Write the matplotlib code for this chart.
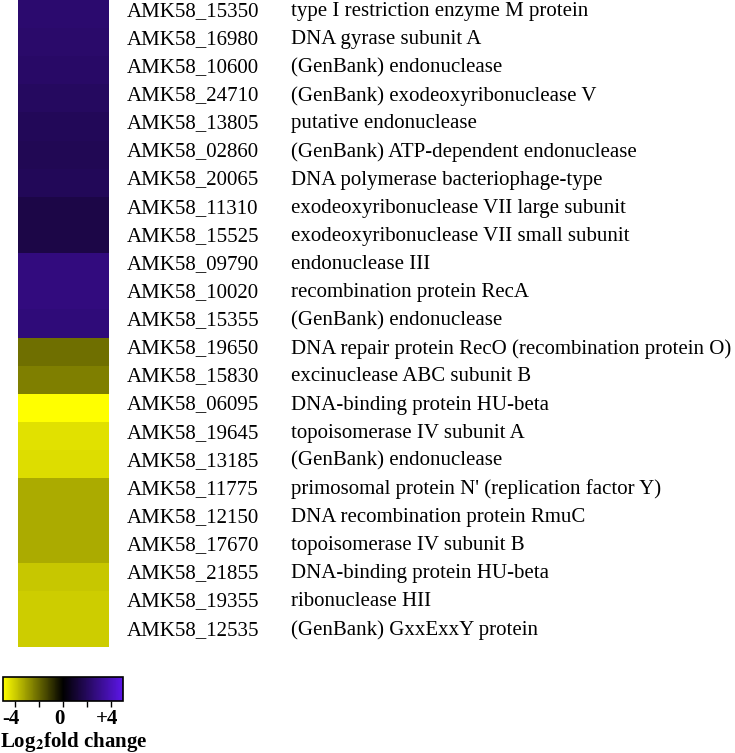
import matplotlib
matplotlib.use("Agg")
import matplotlib.pyplot as plt
import numpy as np
from matplotlib.colors import LinearSegmentedColormap, Normalize
from matplotlib.cm import ScalarMappable
from matplotlib.transforms import blended_transform_factory, ScaledTranslation

gene_ids = [
    "AMK58_15350", "AMK58_16980", "AMK58_10600", "AMK58_24710", "AMK58_13805",
    "AMK58_02860", "AMK58_20065", "AMK58_11310", "AMK58_15525", "AMK58_09790",
    "AMK58_10020", "AMK58_15355", "AMK58_19650", "AMK58_15830", "AMK58_06095",
    "AMK58_19645", "AMK58_13185", "AMK58_11775", "AMK58_12150", "AMK58_17670",
    "AMK58_21855", "AMK58_19355", "AMK58_12535",
]
descriptions = [
    "type I restriction enzyme M protein",
    "DNA gyrase subunit A",
    "(GenBank) endonuclease",
    "(GenBank) exodeoxyribonuclease V",
    "putative endonuclease",
    "(GenBank) ATP-dependent endonuclease",
    "DNA polymerase bacteriophage-type",
    "exodeoxyribonuclease VII large subunit",
    "exodeoxyribonuclease VII small subunit",
    "endonuclease III",
    "recombination protein RecA",
    "(GenBank) endonuclease",
    "DNA repair protein RecO (recombination protein O)",
    "excinuclease ABC subunit B",
    "DNA-binding protein HU-beta",
    "topoisomerase IV subunit A",
    "(GenBank) endonuclease",
    "primosomal protein N' (replication factor Y)",
    "DNA recombination protein RmuC",
    "topoisomerase IV subunit B",
    "DNA-binding protein HU-beta",
    "ribonuclease HII",
    "(GenBank) GxxExxY protein",
]
log2fc = [
    2.37, 2.28, 2.2, 2.07, 1.9, 1.81, 1.9, 1.55, 1.55, 2.72, 2.72, 2.59,
    -2.16, -2.5, -5.0, -4.4, -4.3, -3.33, -3.33, -3.33, -3.9, -4.0, -4.0,
]

plt.rcParams["font.family"] = ["Liberation Serif", "DejaVu Serif"]
plt.rcParams["mathtext.fontset"] = "stix"

cmap = LinearSegmentedColormap.from_list("ybp", ["#ffff00", "#000000", "#5c16e8"])
norm = Normalize(vmin=-5, vmax=5)

fig = plt.figure(figsize=(7.35, 7.53), dpi=100)

# heatmap column
ax = fig.add_axes([18 / 735, 1 - 647 / 753, 91 / 735, 647 / 753])
n = len(log2fc)
ax.imshow(np.array(log2fc).reshape(-1, 1), cmap=cmap, norm=norm, aspect="auto",
          interpolation="nearest", extent=(0, 1, n - 0.5, -0.5))
ax.set_xlim(0, 1)
ax.set_ylim(n - 0.5, -0.5)
ax.axis("off")

trans = blended_transform_factory(fig.transFigure, ax.transData)
for i, (gid, desc) in enumerate(zip(gene_ids, descriptions)):
    fig.text(127 / 735, i - 0.1, gid, transform=trans, va="center", ha="left", fontsize=15)
    fig.text(291 / 735, i - 0.1, desc, transform=trans, va="center", ha="left", fontsize=15)

# colour key
cax = fig.add_axes([3 / 735, 1 - 701 / 753, 120 / 735, 24 / 753])
cb = fig.colorbar(ScalarMappable(norm=norm, cmap=cmap), cax=cax, orientation="horizontal")
cb.set_ticks([-4, -2, 0, 2, 4])
cb.set_ticklabels(["-4", "", "0", "", "+4"])
cax.tick_params(direction="out", length=4, width=1, pad=2, labelsize=15)
shift = ScaledTranslation(-4 / 100, 0, fig.dpi_scale_trans)
for lab in cax.get_xticklabels():
    lab.set_fontweight("bold")
    lab.set_transform(lab.get_transform() + shift)
cb.outline.set_linewidth(1.2)

fig.text(0, 1 - 742 / 753, r"Log$_{\mathbf{2}}$fold change", fontsize=15,
         fontweight="bold", va="center", ha="left")

fig.savefig("out.png", dpi=100)
plt.close()
